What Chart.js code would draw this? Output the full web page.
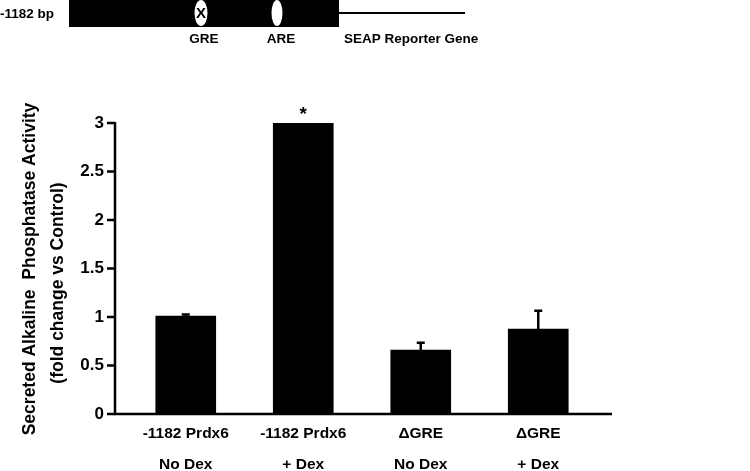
<!DOCTYPE html>
<html>
<head>
<meta charset="utf-8">
<script src="https://cdn.jsdelivr.net/npm/chart.js@4.4.1/dist/chart.umd.min.js"></script>
<style>
  html, body { margin: 0; padding: 0; background: #fff; }
  #wrap { width: 750px; height: 471px; position: relative; }
</style>
</head>
<body>
<div id="wrap"><canvas id="graphe"></canvas></div>
<script>
// donnees
const categories = [['-1182 Prdx6', 'No Dex'], ['-1182 Prdx6', '+ Dex'], ['\u0394GRE', 'No Dex'], ['\u0394GRE', '+ Dex']];
const activite = [1.01, 3.0, 0.66, 0.875];
const erreurs = [0.015, 0, 0.075, 0.19];
const significatif = [false, true, false, false];
const ticksY = [0, 0.5, 1, 1.5, 2, 2.5, 3];
const titreY = ['Secreted Alkaline  Phosphatase Activity', '(fold change vs Control)'];

const POLICE = '"Liberation Sans", Arial, sans-serif';

// schema du promoteur, axes, barres d'erreur, titre
const dessinPlugin = {
    id: 'dessin',
    afterDraw(chart) {
        const ctx = chart.ctx;
        const x = chart.scales.x;
        const y = chart.scales.y;
        const axeX = 115;
        const bas = y.getPixelForValue(0);

        ctx.save();
        ctx.fillStyle = '#000';
        ctx.strokeStyle = '#000';

        // schema en haut
        ctx.fillRect(69, 0, 270, 27);
        ctx.lineWidth = 2;
        ctx.beginPath();
        ctx.moveTo(339, 13);
        ctx.lineTo(465, 13);
        ctx.stroke();
        ctx.fillStyle = '#fff';
        ctx.beginPath();
        ctx.ellipse(201, 13, 6.5, 13, 0, 0, Math.PI * 2);
        ctx.fill();
        ctx.beginPath();
        ctx.ellipse(277, 13, 5.5, 13, 0, 0, Math.PI * 2);
        ctx.fill();
        ctx.fillStyle = '#000';
        ctx.font = 'bold 15px ' + POLICE;
        ctx.textAlign = 'center';
        ctx.textBaseline = 'middle';
        ctx.fillText('X', 201, 14);
        ctx.font = 'bold 13.5px ' + POLICE;
        ctx.textAlign = 'left';
        ctx.fillText('-1182 bp', 0, 14);
        ctx.fillText('SEAP Reporter Gene', 344, 39);
        ctx.textAlign = 'center';
        ctx.fillText('GRE', 204, 39);
        ctx.fillText('ARE', 281, 39);

        // axes
        ctx.lineWidth = 2.5;
        ctx.beginPath();
        ctx.moveTo(axeX, y.getPixelForValue(3) - 1);
        ctx.lineTo(axeX, bas);
        ctx.lineTo(612, bas);
        ctx.stroke();
        ticksY.forEach(v => {
            const py = y.getPixelForValue(v);
            ctx.beginPath();
            ctx.moveTo(axeX - 8, py);
            ctx.lineTo(axeX, py);
            ctx.stroke();
        });

        // barres d'erreur et asterisque
        activite.forEach((v, i) => {
            const px = x.getPixelForValue(i);
            if (erreurs[i] > 0) {
                const haut = y.getPixelForValue(v + erreurs[i]);
                ctx.beginPath();
                ctx.moveTo(px, y.getPixelForValue(v));
                ctx.lineTo(px, haut);
                ctx.moveTo(px - 4, haut);
                ctx.lineTo(px + 4, haut);
                ctx.stroke();
            }
            if (significatif[i]) {
                ctx.font = 'bold 19px ' + POLICE;
                ctx.textAlign = 'center';
                ctx.fillText('*', px, y.getPixelForValue(v + erreurs[i]) - 8);
            }
        });

        // titre de l'axe y
        ctx.font = 'bold 17.5px ' + POLICE;
        ctx.textAlign = 'center';
        ctx.translate(30, 269);
        ctx.rotate(-Math.PI / 2);
        ctx.fillText(titreY[0], 0, 0);
        ctx.fillText(titreY[1], -14, 28);
        ctx.restore();
    }
};

const ctx = document.getElementById('graphe').getContext('2d');
new Chart(ctx, {
    type: 'bar',
    data: {
        labels: categories,
        datasets: [{
            data: activite,
            backgroundColor: '#000',
            borderWidth: 0,
            barThickness: 60
        }]
    },
    options: {
        responsive: true,
        maintainAspectRatio: false,
        animation: false,
        layout: { padding: { top: 123, right: 153, left: 0, bottom: 0 } },
        plugins: {
            legend: { display: false },
            tooltip: { enabled: false }
        },
        scales: {
            x: {
                grid: { display: false },
                border: { display: false },
                ticks: {
                    color: '#000',
                    font: { family: POLICE, size: 15.5, weight: 'bold', lineHeight: 1.95 },
                    padding: -3,
                    maxRotation: 0,
                    autoSkip: false
                },
                afterFit(scale) { scale.height = 57; }
            },
            y: {
                min: 0,
                max: 3,
                grid: { display: false },
                border: { display: false },
                afterBuildTicks(scale) { scale.ticks = ticksY.map(v => ({ value: v })); },
                ticks: {
                    color: '#000',
                    font: { family: POLICE, size: 17, weight: 'bold' },
                    padding: 15,
                    callback: v => String(v)
                },
                afterFit(scale) { scale.width = 127; }
            }
        }
    },
    plugins: [dessinPlugin]
});
</script>
</body>
</html>
